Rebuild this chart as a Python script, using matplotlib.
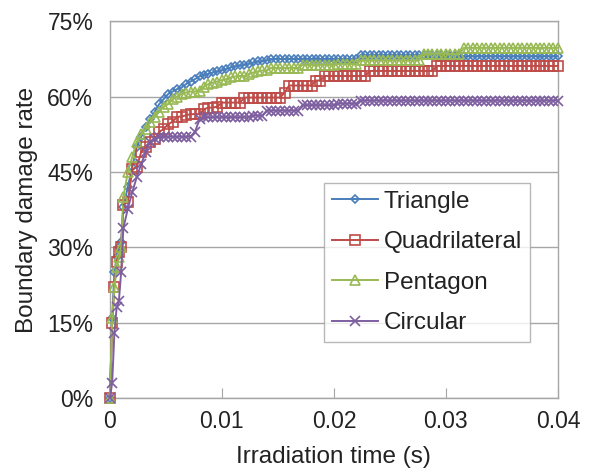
import numpy as np
import matplotlib
matplotlib.use("Agg")
import matplotlib.pyplot as plt
from matplotlib.ticker import FuncFormatter

plt.rcParams['font.family'] = ['Liberation Sans', 'DejaVu Sans']

# time axis (s): finer steps at the start, then every 0.0004 s
time_early = [0, 0.0002, 0.0004, 0.0006, 0.0008, 0.0010, 0.0012]
time_late = list(np.round(np.arange(0.0016, 0.04001, 0.0004), 5))
time = np.array(time_early + time_late)

# boundary damage rate (%)
triangle = [0, 16, 25, 28, 30, 31, 38,
            42, 46, 50, 52, 54, 55.5, 57, 58.5, 59.5, 60.5,
            61, 61.5, 61.8, 62.5, 63, 63.5, 64, 64.3, 64.5, 64.8,
            65, 65.2, 65.5, 65.8, 66, 66.2, 66.3, 66.5, 66.8, 67,
            67, 67.2, 67.5, 67.5, 67.5, 67.5, 67.5, 67.5, 67.5, 67.5,
            67.5, 67.5, 67.5, 67.5, 67.5, 67.5, 67.5, 67.5, 67.5, 67.5,
            67.5, 67.5, 68.3, 68.3, 68.3, 68.3, 68.3, 68.3, 68.3, 68.3,
            68.3, 68.3, 68.3, 68.3, 68.3, 68.3, 68.3, 68.3, 68.3, 68.3,
            68.3, 68.3, 68.0, 68.0, 68.0, 68.0, 68.0, 68.0, 68.0, 68.0,
            68.0, 68.0, 68.0, 68.0, 68.0, 68.0, 68.0, 68.0, 68.0, 68.0,
            68.0, 68.0, 68.0, 68.0, 68.0, 68.0, 68.0]

quadrilateral = [0, 15, 22, 27, 29, 30, 38.5,
                 39, 45.5, 46, 49, 50, 51, 51.5, 53, 53.5, 54.5,
                 55, 56, 56, 56.3, 56.5, 56.5, 56.5, 57.5, 57.8, 57.8,
                 58, 58.8, 58.8, 58.8, 58.8, 58.8, 59.8, 59.8, 59.8, 59.8,
                 59.8, 59.8, 59.8, 59.8, 59.8, 60.8, 62.2, 62.2, 62.2, 62.2,
                 62.2, 62.2, 63.2, 63.2, 64.1, 64.1, 64.1, 64.1, 64.1, 64.1,
                 64.1, 64.1, 64.1, 64.1, 65.1, 65.1, 65.1, 65.1, 65.1, 65.1,
                 65.1, 65.1, 65.1, 65.1, 65.1, 65.1, 65.1, 65.1, 65.1, 66.1,
                 66.1, 66.1, 66.1, 66.1, 66.1, 66.1, 66.1, 66.1, 66.1, 66.1,
                 66.1, 66.1, 66.1, 66.1, 66.1, 66.1, 66.1, 66.1, 66.1, 66.1,
                 66.1, 66.1, 66.1, 66.1, 66.1, 66.1, 66.1]

pentagon = [0, 16, 22, 26, 28, 30, 40,
            45, 48, 51, 52.5, 53.5, 55, 56, 57, 58, 58.5,
            59.5, 60, 60.5, 60.8, 61, 61, 61.2, 62, 62.5, 62.8,
            63, 63.3, 63.5, 63.8, 64, 64.1, 64.1, 64.5, 64.8, 65,
            65.2, 65.2, 65.7, 65.7, 65.7, 65.7, 65.7, 65.7, 65.7, 66.3,
            66.3, 66.3, 66.3, 66.3, 66.3, 66.3, 66.3, 66.5, 66.5, 66.5,
            66.5, 66.5, 67.2, 67.2, 67.2, 67.2, 67.2, 67.2, 67.2, 67.2,
            67.2, 67.2, 67.2, 67.2, 67.2, 67.2, 68.5, 68.5, 68.5, 68.5,
            68.5, 68.5, 68.5, 68.5, 68.5, 69.7, 69.7, 69.7, 69.7, 69.7,
            69.7, 69.7, 69.7, 69.7, 69.7, 69.7, 69.7, 69.7, 69.7, 69.7,
            69.7, 69.7, 69.7, 69.7, 69.7, 69.7, 69.7]

circular = [0, 3, 13, 18, 19.3, 25, 33.8,
            37.7, 41, 44, 46.6, 49, 51, 51.5, 52, 52, 52,
            52, 52, 52, 52, 52, 53, 55.5, 55.9, 55.9, 55.9,
            55.9, 55.9, 55.9, 55.9, 55.9, 55.9, 55.9, 55.9, 56.2, 56.2,
            56.2, 57.2, 57.2, 57.2, 57.2, 57.2, 57.2, 57.2, 57.2, 58.3,
            58.3, 58.3, 58.3, 58.3, 58.3, 58.3, 58.3, 58.6, 58.6, 58.6,
            58.6, 58.6, 59.2, 59.2, 59.2, 59.2, 59.2, 59.2, 59.2, 59.2,
            59.2, 59.2, 59.2, 59.2, 59.2, 59.2, 59.2, 59.2, 59.2, 59.2,
            59.2, 59.2, 59.2, 59.2, 59.2, 59.2, 59.2, 59.2, 59.2, 59.2,
            59.2, 59.2, 59.2, 59.2, 59.2, 59.2, 59.2, 59.2, 59.2, 59.2,
            59.2, 59.2, 59.2, 59.2, 59.2, 59.2, 59.2]

series_names = ["Triangle", "Quadrilateral", "Pentagon", "Circular"]
series_vals = [triangle, quadrilateral, pentagon, circular]
colors = ["#4A7EBB", "#BE4B48", "#98B954", "#7D5FA0"]
markers = ["D", "s", "^", "x"]
msizes = [4.5, 6.5, 6.5, 6.5]

x_ticks = [0, 0.01, 0.02, 0.03, 0.04]
x_tick_labels = ["0", "0.01", "0.02", "0.03", "0.04"]
y_ticks = [0, 15, 30, 45, 60, 75]

FS_TICK = 16.5
FS_LAB = 17.5
FS_LEG = 17.5
TXT = "#222222"

fig = plt.figure(figsize=(5.91, 4.72), dpi=100)
ax = fig.add_axes([0.186, 0.157, 0.758, 0.798])

for name, vals, c, m, ms in zip(series_names, series_vals, colors, markers, msizes):
    n = min(len(time), len(vals))
    ax.plot(time[:n], np.array(vals[:n]), color=c, lw=1.4, marker=m,
            markersize=ms, markerfacecolor="none" if m != "x" else c,
            markeredgecolor=c, markeredgewidth=1.2, label=name,
            clip_on=False, zorder=3)

ax.set_xlim(0, 0.04)
ax.set_ylim(0, 75)
ax.set_xticks(x_ticks)
ax.set_xticklabels(x_tick_labels)
ax.set_yticks(y_ticks)
ax.yaxis.set_major_formatter(FuncFormatter(lambda v, p: f"{int(v)}%"))

ax.grid(axis="y", color="#A6A6A6", lw=1.0)
ax.set_axisbelow(True)
for s in ax.spines.values():
    s.set_color("#A6A6A6")
    s.set_linewidth(1.0)

ax.tick_params(axis="x", direction="in", length=7, color="#A6A6A6",
               labelsize=FS_TICK, pad=9, labelcolor=TXT)
ax.tick_params(axis="y", length=0, labelsize=FS_TICK, pad=12, labelcolor=TXT)

ax.set_xlabel("Irradiation time (s)", fontsize=FS_LAB, color=TXT, labelpad=9)
ax.set_ylabel("Boundary damage rate", fontsize=FS_LAB, color=TXT, labelpad=7)

leg = ax.legend(loc="lower right", bbox_to_anchor=(0.9375, 0.1485), fontsize=FS_LEG,
                frameon=True, fancybox=False, edgecolor="#A6A6A6",
                handlelength=1.9, handletextpad=0.25, labelspacing=0.76,
                borderpad=0.32, borderaxespad=0, labelcolor=TXT)
leg.get_frame().set_linewidth(1.0)

fig.savefig("out.png", dpi=100)
